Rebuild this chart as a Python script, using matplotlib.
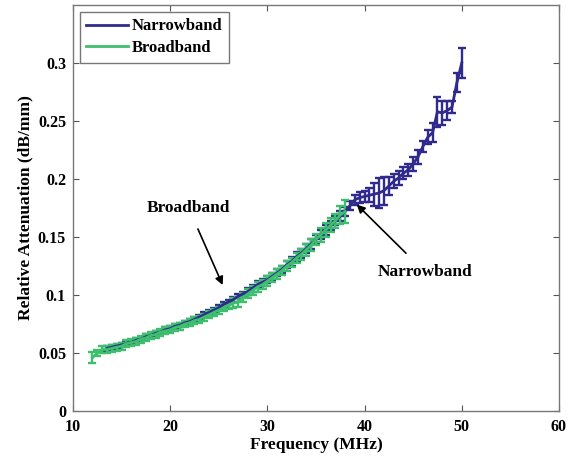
import matplotlib
matplotlib.use("Agg")
import matplotlib.pyplot as plt
from matplotlib.lines import Line2D

plt.rcParams['font.family'] = ['Liberation Serif', 'DejaVu Serif']
plt.rcParams['font.weight'] = 'bold'

# Narrowband measurements (frequency in MHz, attenuation in dB/mm, std)
nb_freq = [13.5, 14.0, 14.5, 15.0, 15.5, 16.0, 16.5, 17.0, 17.5, 18.0,
           18.5, 19.0, 19.5, 20.0, 20.5, 21.0, 21.5, 22.0, 22.5, 23.0,
           23.5, 24.0, 24.5, 25.0, 25.5, 26.0, 26.5, 27.0, 27.5, 28.0,
           28.5, 29.0, 29.5, 30.0, 30.5, 31.0, 31.5, 32.0, 32.5, 33.0,
           33.5, 34.0, 34.5, 35.0, 35.5, 36.0, 36.5, 37.0, 37.5, 38.0,
           38.5, 39.0, 39.5, 40.0, 40.5, 41.0, 41.5, 42.0, 42.5, 43.0,
           43.5, 44.0, 44.5, 45.0, 45.5, 46.0, 46.5, 47.0, 47.5, 48.0,
           48.5, 49.0, 49.5, 50.0]
nb_att = [0.054, 0.055, 0.056, 0.057, 0.058, 0.059, 0.061, 0.062, 0.064, 0.065,
          0.067, 0.068, 0.070, 0.071, 0.073, 0.074, 0.076, 0.077, 0.079, 0.081,
          0.083, 0.085, 0.087, 0.089, 0.092, 0.094, 0.096, 0.099, 0.101, 0.103,
          0.106, 0.109, 0.111, 0.113, 0.116, 0.119, 0.122, 0.126, 0.129, 0.133,
          0.136, 0.140, 0.144, 0.148, 0.152, 0.156, 0.160, 0.164, 0.168, 0.172,
          0.177, 0.182, 0.184, 0.185, 0.186, 0.187, 0.188, 0.190, 0.194, 0.198,
          0.201, 0.205, 0.208, 0.213, 0.219, 0.228, 0.236, 0.240, 0.258, 0.257,
          0.259, 0.262, 0.283, 0.300]
nb_err = [0.002, 0.002, 0.002, 0.002, 0.002, 0.002, 0.002, 0.002, 0.002, 0.002,
          0.002, 0.002, 0.002, 0.002, 0.002, 0.002, 0.002, 0.002, 0.002, 0.002,
          0.002, 0.002, 0.002, 0.002, 0.002, 0.002, 0.002, 0.002, 0.002, 0.003,
          0.003, 0.003, 0.003, 0.003, 0.003, 0.003, 0.003, 0.003, 0.004, 0.004,
          0.004, 0.004, 0.004, 0.004, 0.004, 0.004, 0.004, 0.004, 0.004, 0.004,
          0.004, 0.004, 0.005, 0.005, 0.006, 0.010, 0.013, 0.012, 0.008, 0.006,
          0.006, 0.005, 0.005, 0.006, 0.006, 0.005, 0.006, 0.008, 0.013, 0.010,
          0.008, 0.005, 0.008, 0.013]

# Broadband measurements
bb_freq = [12.0, 12.5, 13.0, 13.5, 14.0, 14.5, 15.0, 15.5, 16.0, 16.5,
           17.0, 17.5, 18.0, 18.5, 19.0, 19.5, 20.0, 20.5, 21.0, 21.5,
           22.0, 22.5, 23.0, 23.5, 24.0, 24.5, 25.0, 25.5, 26.0, 26.5,
           27.0, 27.5, 28.0, 28.5, 29.0, 29.5, 30.0, 30.5, 31.0, 31.5,
           32.0, 32.5, 33.0, 33.5, 34.0, 34.5, 35.0, 35.5, 36.0, 36.5,
           37.0, 37.5, 38.0]
bb_att = [0.046, 0.050, 0.053, 0.053, 0.054, 0.055, 0.056, 0.058, 0.059, 0.060,
          0.062, 0.063, 0.065, 0.066, 0.068, 0.069, 0.070, 0.072, 0.073, 0.075,
          0.076, 0.078, 0.079, 0.081, 0.083, 0.085, 0.087, 0.089, 0.091, 0.093,
          0.094, 0.098, 0.101, 0.104, 0.107, 0.109, 0.112, 0.115, 0.118, 0.121,
          0.125, 0.128, 0.132, 0.135, 0.139, 0.143, 0.148, 0.152, 0.156, 0.160,
          0.164, 0.169, 0.172]
bb_err = [0.005, 0.003, 0.003, 0.003, 0.003, 0.003, 0.003, 0.003, 0.003, 0.003,
          0.003, 0.003, 0.003, 0.003, 0.003, 0.003, 0.003, 0.003, 0.003, 0.003,
          0.003, 0.003, 0.003, 0.003, 0.003, 0.003, 0.003, 0.003, 0.003, 0.004,
          0.004, 0.004, 0.004, 0.004, 0.004, 0.004, 0.004, 0.004, 0.004, 0.004,
          0.004, 0.004, 0.004, 0.005, 0.005, 0.005, 0.005, 0.006, 0.006, 0.006,
          0.006, 0.008, 0.010]

x_ticks = [10, 20, 30, 40, 50, 60]
y_ticks = [0, 0.05, 0.1, 0.15, 0.2, 0.25, 0.3]
y_tick_labels = ['0', '0.05', '0.1', '0.15', '0.2', '0.25', '0.3']

nb_color = '#2f2a8c'
bb_color = '#3dbf6e'

fig = plt.figure(figsize=(5.75, 4.59), dpi=100)
ax = fig.add_axes([0.127, 0.1046, 0.845, 0.8844])

ax.errorbar(nb_freq, nb_att, yerr=nb_err, color=nb_color, lw=2.0,
            elinewidth=1.7, capsize=3, capthick=1.7)
ax.errorbar(bb_freq, bb_att, yerr=bb_err, color=bb_color, lw=2.0,
            elinewidth=1.7, capsize=3, capthick=1.7)

ax.set_xlim(10, 60)
ax.set_ylim(0, 0.35)
ax.set_xticks(x_ticks)
ax.set_yticks(y_ticks)
ax.set_yticklabels(y_tick_labels)
ax.tick_params(direction='in', top=True, right=True, length=4,
               labelsize=11.5, color='#555555')
ax.tick_params(axis='x', pad=6)
ax.tick_params(axis='y', pad=5)
for lbl in ax.get_xticklabels() + ax.get_yticklabels():
    lbl.set_fontweight('bold')
for sp in ax.spines.values():
    sp.set_color('#777777')
    sp.set_linewidth(1.0)

ax.set_xlabel('Frequency (MHz)', fontsize=12.5, fontweight='bold', labelpad=1)
ax.set_ylabel('Relative Attenuation (dB/mm)', fontsize=12.5,
              fontweight='bold', labelpad=3)

# Annotations pointing to the two curves
ax.annotate('Broadband', xy=(25.4, 0.1086), xytext=(21.9, 0.175),
            fontsize=12.5, fontweight='bold', ha='center', va='center',
            arrowprops=dict(arrowstyle='-|>', color='black', lw=1.2,
                            shrinkA=8, shrinkB=0, mutation_scale=12))
ax.annotate('Narrowband', xy=(39.2, 0.178), xytext=(46.2, 0.120),
            fontsize=12.5, fontweight='bold', ha='center', va='center',
            arrowprops=dict(arrowstyle='-|>', color='black', lw=1.2,
                            shrinkA=8, shrinkB=0, mutation_scale=12))

handles = [Line2D([], [], color=nb_color, lw=2.0),
           Line2D([], [], color=bb_color, lw=2.0)]
leg = ax.legend(handles, ['Narrowband', 'Broadband'], loc='upper left',
                fontsize=12, frameon=True, fancybox=False,
                handlelength=2.5, handletextpad=0.2, borderpad=0.4,
                labelspacing=0.35, borderaxespad=0.4)
leg.get_frame().set_edgecolor('#555555')
leg.get_frame().set_linewidth(1.0)
for t in leg.get_texts():
    t.set_fontweight('bold')

fig.savefig('out.png', dpi=100)
